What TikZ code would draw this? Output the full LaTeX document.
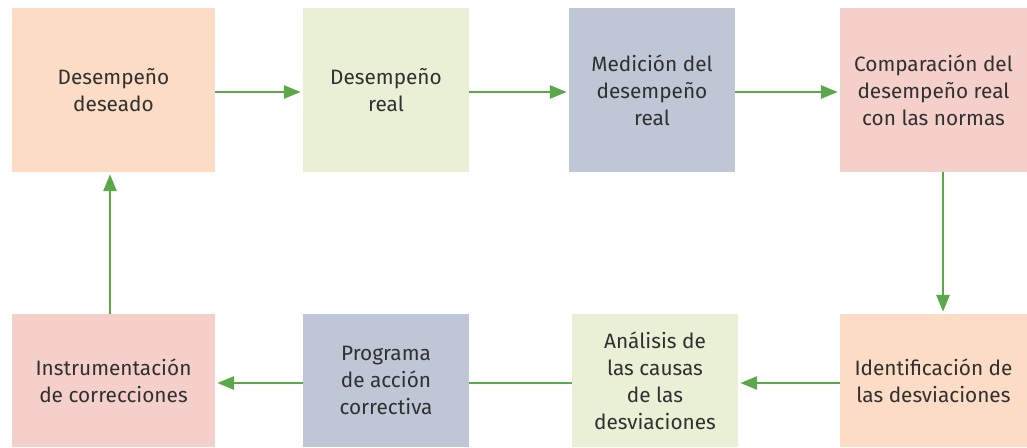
\documentclass[tikz,border=0pt]{standalone}
\usepackage{fontspec}
\setmainfont{Fira Sans}
\usetikzlibrary{arrows.meta}
\definecolor{peach}{HTML}{FCDCC4}
\definecolor{lgreen}{HTML}{EAF0D6}
\definecolor{lblue}{HTML}{BFC6D6}
\definecolor{lpink}{HTML}{F5D0CB}
\definecolor{agreen}{HTML}{5AA84A}
\definecolor{txt}{HTML}{303030}
\tikzset{
  box/.style={inner sep=0pt, align=center, text=txt,
    font=\fontsize{20.8}{27}\selectfont},
  flow/.style={draw=agreen, line width=2.8pt,
    -{Triangle[length=17pt,width=13pt]}, shorten >=2pt}
}
\begin{document}
\begin{tikzpicture}[x=1pt,y=1pt]
\useasboundingbox (0,0) rectangle (1027,447);
\node[box, fill=peach, minimum width=203pt, minimum height=164pt] (b1) at (113.5,357) {Desempeño\\deseado};
\node[box, fill=lgreen, minimum width=166pt, minimum height=164pt] (b2) at (386,357) {Desempeño\\real};
\node[box, fill=lblue, minimum width=166pt, minimum height=164pt] (b3) at (652,357) {Medición del\\desempeño\\real};
\node[box, fill=lpink, minimum width=187pt, minimum height=164pt] (b4) at (933.5,357) {Comparación del\\desempeño real\\con las normas};
\node[box, fill=lpink, minimum width=203pt, minimum height=133pt] (b5) at (113.5,66.5) {Instrumentación\\de correcciones};
\node[box, fill=lblue, minimum width=166pt, minimum height=133pt] (b6) at (386,66.5) {Programa\\de acción\\correctiva};
\node[box, fill=lgreen, minimum width=166pt, minimum height=133pt] (b7) at (655,66.5) {Análisis de\\las causas\\de las\\desviaciones};
\node[box, fill=peach, minimum width=187pt, minimum height=133pt] (b8) at (933.5,66.5) {Identificación de\\las desviaciones};
\draw[flow] ([yshift=-2pt]b1.east) -- ([yshift=-2pt]b2.west);
\draw[flow] ([yshift=-2pt]b2.east) -- ([yshift=-2pt]b3.west);
\draw[flow] ([yshift=-2pt]b3.east) -- ([yshift=-2pt]b4.west);
\draw[flow] ([xshift=9.5pt]b4.south) -- ([xshift=9.5pt]b8.north);
\draw[flow] ([yshift=-2.5pt]b8.west) -- ([yshift=-2.5pt]b7.east);
\draw[flow] ([yshift=-2.5pt]b6.west) -- ([yshift=-2.5pt]b5.east);
\draw[flow] ([xshift=-3.5pt]b5.north) -- ([xshift=-3.5pt]b1.south);
\draw[draw=agreen, line width=2.8pt] ([yshift=-2.5pt]b7.west) -- ([yshift=-2.5pt]b6.east);
\end{tikzpicture}
\end{document}
